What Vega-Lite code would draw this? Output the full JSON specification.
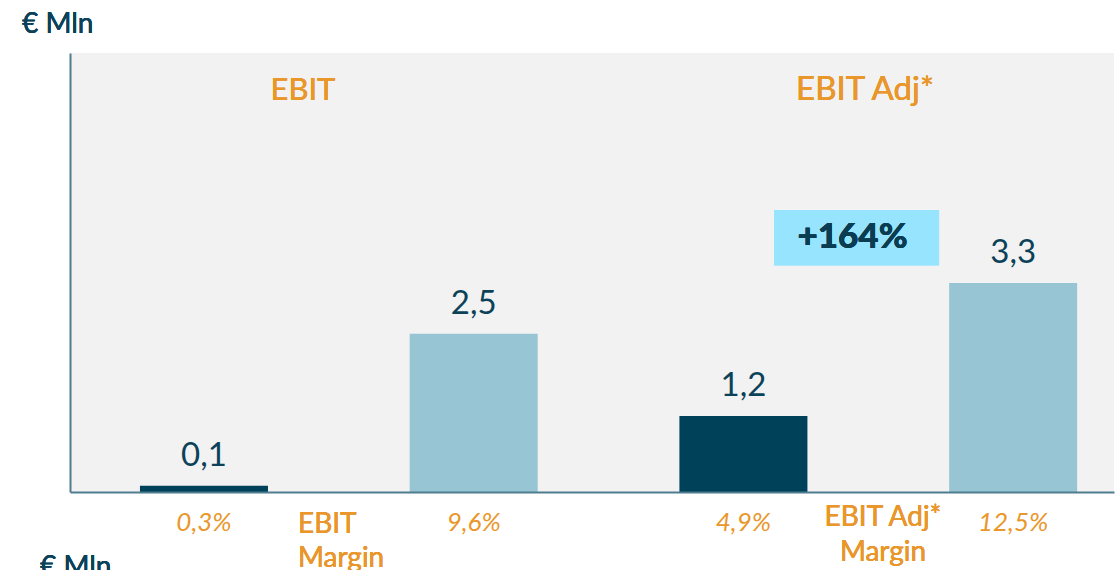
{
  "$schema": "https://vega.github.io/schema/vega-lite/v6.json",
  "width": 1044,
  "height": 439,
  "autosize": {"type": "none"},
  "padding": {"left": 70, "top": 53, "right": 6, "bottom": 100},
  "background": "#FFFFFF",
  "data": {
    "values": [
      {"key": "EBIT Prior", "group": "EBIT", "period": "Prior", "value": 0.1, "label": "0,1", "margin": "0,3%"},
      {"key": "EBIT Current", "group": "EBIT", "period": "Current", "value": 2.5, "label": "2,5", "margin": "9,6%"},
      {"key": "EBIT Adj* Prior", "group": "EBIT Adj*", "period": "Prior", "value": 1.2, "label": "1,2", "margin": "4,9%"},
      {"key": "EBIT Adj* Current", "group": "EBIT Adj*", "period": "Current", "value": 3.3, "label": "3,3", "margin": "12,5%"}
    ]
  },
  "encoding": {
    "x": {
      "field": "key",
      "type": "nominal",
      "sort": null,
      "scale": {"paddingInner": 0.5254, "paddingOuter": 0.198, "align": 0.655},
      "axis": {
        "title": null,
        "labels": false,
        "ticks": false,
        "domainColor": "#4E7D8F",
        "domainWidth": 2,
        "zindex": 1
      }
    }
  },
  "layer": [
    {
      "mark": {"type": "bar"},
      "encoding": {
        "y": {
          "field": "value",
          "type": "quantitative",
          "scale": {"domain": [0, 6.93], "nice": false, "zero": true},
          "axis": {
            "title": null,
            "labels": false,
            "ticks": false,
            "grid": false,
            "domainColor": "#4E7D8F",
            "domainWidth": 2,
            "zindex": 1
          }
        },
        "color": {
          "field": "period",
          "type": "nominal",
          "scale": {"domain": ["Prior", "Current"], "range": ["#00415A", "#97C5D3"]},
          "legend": null
        }
      }
    },
    {
      "mark": {"type": "text", "baseline": "alphabetic", "dy": -20, "font": "Lato", "fontSize": 33, "color": "#0B4259"},
      "encoding": {
        "y": {"field": "value", "type": "quantitative"},
        "text": {"field": "label"}
      }
    },
    {
      "mark": {"type": "text", "baseline": "alphabetic", "dy": 39, "font": "Lato", "fontSize": 26, "fontStyle": "italic", "color": "#E9972B"},
      "encoding": {
        "y": {"datum": 0, "type": "quantitative"},
        "text": {"field": "margin"}
      }
    },
    {
      "mark": {"type": "text", "text": "€ Mln", "align": "left", "baseline": "alphabetic", "dx": -182, "dy": -20, "font": "Lato", "fontSize": 28, "color": "#0B4259"},
      "encoding": {
        "x": {"datum": "EBIT Prior"},
        "y": {"datum": 6.93, "type": "quantitative"}
      }
    },
    {
      "mark": {"type": "text", "text": "EBIT", "align": "center", "baseline": "alphabetic", "dx": 99, "font": "Lato", "fontSize": 31, "color": "#E9972B"},
      "encoding": {
        "x": {"datum": "EBIT Prior"},
        "y": {"datum": 6.19, "type": "quantitative"}
      }
    },
    {
      "mark": {"type": "text", "text": "EBIT Adj*", "align": "center", "baseline": "alphabetic", "dx": 121.6, "font": "Lato", "fontSize": 33, "color": "#E9972B"},
      "encoding": {
        "x": {"datum": "EBIT Adj* Prior"},
        "y": {"datum": 6.19, "type": "quantitative"}
      }
    },
    {
      "mark": {"type": "text", "text": ["EBIT", "Margin"], "align": "left", "baseline": "alphabetic", "dx": 94, "dy": 41, "lineHeight": 34, "font": "Lato", "fontSize": 28, "color": "#E9972B"},
      "encoding": {
        "x": {"datum": "EBIT Prior"},
        "y": {"datum": 0, "type": "quantitative"}
      }
    },
    {
      "mark": {"type": "text", "text": ["EBIT Adj*", "Margin"], "align": "center", "baseline": "alphabetic", "dx": 139.6, "dy": 34, "lineHeight": 35, "font": "Lato", "fontSize": 28, "color": "#E9972B"},
      "encoding": {
        "x": {"datum": "EBIT Adj* Prior"},
        "y": {"datum": 0, "type": "quantitative"}
      }
    },
    {
      "mark": {"type": "bar", "width": 165, "xOffset": -156.6, "color": "#97E4FF"},
      "encoding": {
        "x": {"datum": "EBIT Adj* Current"},
        "y": {"datum": 4.45, "type": "quantitative"},
        "y2": {"datum": 3.58}
      }
    },
    {
      "mark": {"type": "text", "text": "+164%", "align": "center", "baseline": "alphabetic", "dx": -160.6, "font": "Lato", "fontSize": 35, "fontWeight": 900, "color": "#0B3D52"},
      "encoding": {
        "x": {"datum": "EBIT Adj* Current"},
        "y": {"datum": 3.85, "type": "quantitative"}
      }
    },
    {
      "mark": {"type": "text", "text": "€ Mln", "align": "left", "baseline": "alphabetic", "dx": -164, "dy": 84, "font": "Lato", "fontSize": 28, "color": "#0B4259"},
      "encoding": {
        "x": {"datum": "EBIT Prior"},
        "y": {"datum": 0, "type": "quantitative"}
      }
    }
  ],
  "config": {
    "view": {"stroke": null, "fill": "#F2F2F2"}
  }
}
